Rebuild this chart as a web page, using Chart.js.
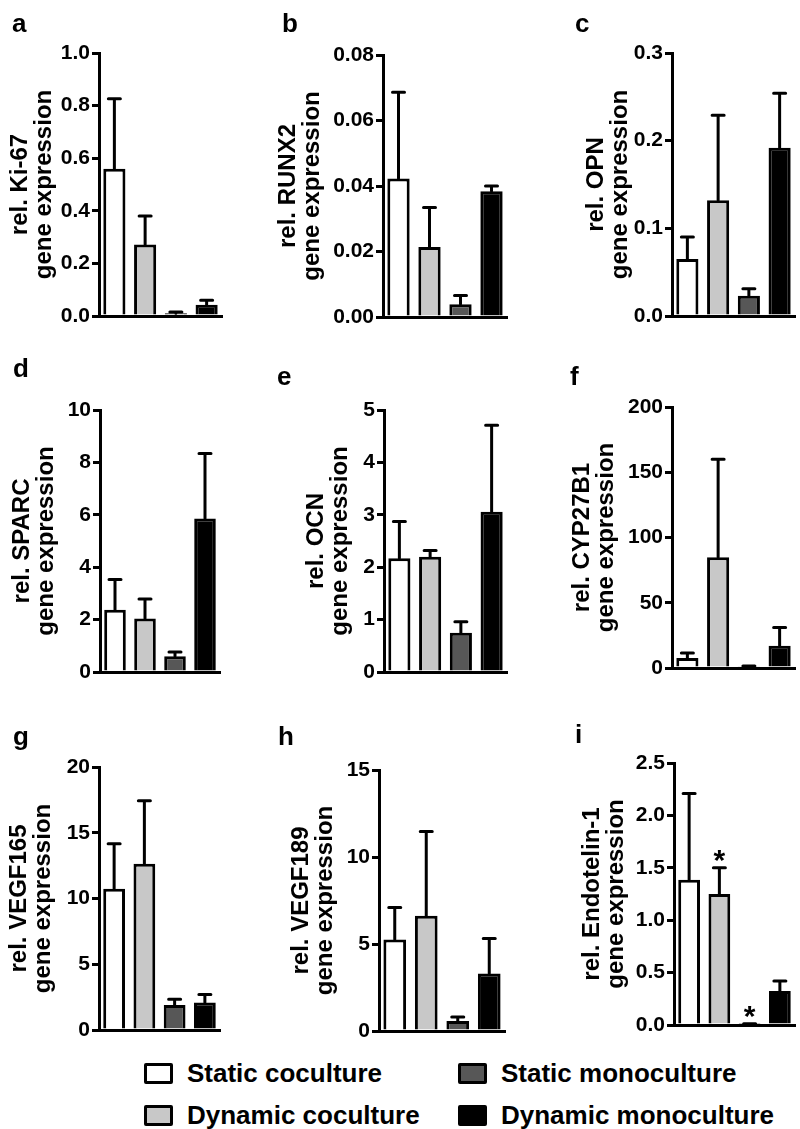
<!DOCTYPE html>
<html>
<head>
<meta charset="utf-8">
<script src="https://cdn.jsdelivr.net/npm/chart.js@4.4.0/dist/chart.umd.min.js"></script>
<style>
  body { margin: 0; width: 800px; height: 1129px; position: relative; overflow: hidden; background: #fff;
         font-family: "Liberation Sans", Arial, sans-serif; color: #000; }
  canvas { position: absolute; }
  .letter { position: absolute; font-weight: bold; font-size: 26px; line-height: 1; }
  .leg { position: absolute; height: 30px; line-height: 30px; font-weight: bold; font-size: 26px;
         display: flex; align-items: center; white-space: nowrap; }
  .box { display: inline-block; width: 23px; height: 15px; border: 3px solid #000; border-radius: 2px; margin-right: 14px; }
</style>
</head>
<body>

<script>
// groups and colours
const groups = ['Static coculture', 'Dynamic coculture', 'Static monoculture', 'Dynamic monoculture'];
const groupColors = ['#ffffff', '#c8c8c8', '#575757', '#000000'];

// values (mean, SD)
const ki67Mean = [0.56, 0.272, 0.01, 0.043];
const ki67Sd   = [0.266, 0.108, 0.005, 0.017];
const runx2Mean = [0.0423, 0.0214, 0.0039, 0.0384];
const runx2Sd   = [0.0263, 0.012, 0.0027, 0.0016];
const opnMean = [0.065, 0.132, 0.023, 0.192];
const opnSd   = [0.025, 0.097, 0.008, 0.062];
const sparcMean = [2.38, 2.04, 0.6, 5.86];
const sparcSd   = [1.15, 0.75, 0.16, 2.48];
const ocnMean = [2.17, 2.2, 0.75, 3.06];
const ocnSd   = [0.70, 0.12, 0.21, 1.65];
const cypMean = [7.6, 84.8, 1.0, 17];
const cypSd   = [3.9, 75.2, 0.5, 14];
const vegf165Mean = [10.74, 12.64, 1.9, 2.1];
const vegf165Sd   = [3.42, 4.8, 0.44, 0.6];
const vegf189Mean = [5.26, 6.62, 0.58, 3.3];
const vegf189Sd   = [1.84, 4.84, 0.22, 2.02];
const et1Mean = [1.385, 1.25, 0.01, 0.325];
const et1Sd   = [0.825, 0.25, 0.002, 0.095];
const et1Stars = [false, true, true, false];

// axis ranges
const yMax  = [1.0, 0.08, 0.3, 10, 5, 200, 20, 15, 2.5];
const yStep = [0.2, 0.02, 0.1, 2, 1, 50, 5, 5, 0.5];
const yDec  = [1, 2, 1, 0, 0, 0, 0, 0, 1];
const genes = ['Ki-67', 'RUNX2', 'OPN', 'SPARC', 'OCN', 'CYP27B1', 'VEGF165', 'VEGF189', 'Endotelin-1'];
const letters = ['a', 'b', 'c', 'd', 'e', 'f', 'g', 'h', 'i'];

const means = [ki67Mean, runx2Mean, opnMean, sparcMean, ocnMean, cypMean, vegf165Mean, vegf189Mean, et1Mean];
const sds   = [ki67Sd, runx2Sd, opnSd, sparcSd, ocnSd, cypSd, vegf165Sd, vegf189Sd, et1Sd];

// layout of each panel: canvas box, axis position, plot top/bottom/right, title centre, letter pos
const boxes = [
  {x: 0,   y: 0,   w: 260, h: 340, ax: 99,  top: 53, bot: 316, right: 222, t1: 20, lx: 12,  lb: 32},
  {x: 260, y: 0,   w: 270, h: 340, ax: 123, top: 55, bot: 317, right: 247, t1: 28, lx: 22,  lb: 32},
  {x: 530, y: 0,   w: 270, h: 340, ax: 142, top: 53, bot: 316, right: 265, t1: 66, lx: 45,  lb: 32},
  {x: 0,   y: 340, w: 260, h: 350, ax: 100, top: 70, bot: 332, right: 220, t1: 22, lx: 13,  lb: 37},
  {x: 260, y: 340, w: 270, h: 350, ax: 124, top: 70, bot: 332, right: 247, t1: 56, lx: 17,  lb: 45},
  {x: 530, y: 340, w: 270, h: 350, ax: 142, top: 67, bot: 328, right: 265, t1: 52, lx: 40,  lb: 45},
  {x: 0,   y: 690, w: 260, h: 360, ax: 99,  top: 77, bot: 340, right: 220, t1: 19, lx: 13,  lb: 55},
  {x: 260, y: 690, w: 270, h: 360, ax: 119, top: 80, bot: 341, right: 245, t1: 41, lx: 18,  lb: 55},
  {x: 530, y: 690, w: 270, h: 360, ax: 144, top: 73, bot: 335, right: 265, t1: 62, lx: 45,  lb: 53}
];

const TITLE_SIZE = 24;
const TITLE_LH = 24;

// upper error bars + asterisks
const errorBars = {
  id: 'errorBars',
  afterDatasetsDraw(chart) {
    const ctx = chart.ctx;
    const y = chart.scales.y;
    const ds = chart.data.datasets[0];
    const meta = chart.getDatasetMeta(0);
    ctx.save();
    ctx.strokeStyle = '#000';
    ctx.fillStyle = '#000';
    ctx.lineWidth = 3;
    ctx.lineCap = 'round';
    meta.data.forEach((bar, i) => {
      const top = y.getPixelForValue(ds.data[i] + ds.errors[i]);
      ctx.beginPath();
      ctx.moveTo(bar.x, bar.y);
      ctx.lineTo(bar.x, top);
      ctx.moveTo(bar.x - 6, top);
      ctx.lineTo(bar.x + 6, top);
      ctx.stroke();
      if (ds.stars && ds.stars[i]) {
        ctx.font = 'bold 30px "Liberation Sans", Arial, sans-serif';
        ctx.textAlign = 'center';
        ctx.textBaseline = 'alphabetic';
        ctx.fillText('*', bar.x, top + 2);
      }
    });
    ctx.restore();
  }
};

for (let k = 0; k < 9; k++) {
  const b = boxes[k];
  const cv = document.createElement('canvas');
  cv.width = b.w; cv.height = b.h;
  cv.style.left = b.x + 'px'; cv.style.top = b.y + 'px';
  cv.style.width = b.w + 'px'; cv.style.height = b.h + 'px';
  document.body.appendChild(cv);

  const lab = document.createElement('div');
  lab.className = 'letter';
  lab.textContent = letters[k];
  lab.style.left = (b.x + b.lx) + 'px';
  lab.style.top = (b.y + b.lb - 22) + 'px';
  document.body.appendChild(lab);

  const padLeft = Math.max(0, b.t1 - TITLE_LH / 2);
  const dec = yDec[k];

  new Chart(cv, {
    type: 'bar',
    data: {
      labels: groups,
      datasets: [{
        data: means[k],
        errors: sds[k],
        stars: k === 8 ? et1Stars : null,
        backgroundColor: groupColors,
        borderColor: '#000',
        borderWidth: 3,
        barPercentage: 0.72,
        categoryPercentage: 1.0
      }]
    },
    options: {
      responsive: false,
      animation: false,
      events: [],
      layout: { padding: { left: padLeft, top: b.top, bottom: b.h - b.bot, right: b.w - b.right } },
      plugins: { legend: { display: false }, tooltip: { enabled: false } },
      scales: {
        x: {
          grid: { display: false },
          ticks: { display: false },
          border: { display: true, color: '#000', width: 3 },
          afterFit: s => { s.height = 0; }
        },
        y: {
          min: 0,
          max: yMax[k],
          ticks: {
            stepSize: yStep[k],
            color: '#000',
            padding: 2,
            font: { family: '"Liberation Sans", Arial, sans-serif', size: 21, weight: 'bold' },
            callback: v => Number(v).toFixed(dec)
          },
          grid: { drawOnChartArea: false, drawTicks: true, tickLength: 7, color: '#000', lineWidth: 3 },
          border: { display: true, color: '#000', width: 3 },
          title: {
            display: true,
            text: ['rel. ' + genes[k], 'gene expression'],
            color: '#000',
            padding: 0,
            font: { family: '"Liberation Sans", Arial, sans-serif', size: TITLE_SIZE, weight: 'bold', lineHeight: TITLE_LH / TITLE_SIZE }
          },
          afterFit: s => { s.width = b.ax - padLeft; }
        }
      }
    },
    plugins: [errorBars]
  });
}

// legend
const legendPos = [
  {x: 144, y: 1058}, {x: 144, y: 1100}, {x: 458, y: 1058}, {x: 458, y: 1100}
];
groups.forEach((g, i) => {
  const d = document.createElement('div');
  d.className = 'leg';
  d.style.left = legendPos[i].x + 'px';
  d.style.top = legendPos[i].y + 'px';
  const sw = document.createElement('span');
  sw.className = 'box';
  sw.style.background = groupColors[i];
  d.appendChild(sw);
  d.appendChild(document.createTextNode(g));
  document.body.appendChild(d);
});
</script>
</body>
</html>
